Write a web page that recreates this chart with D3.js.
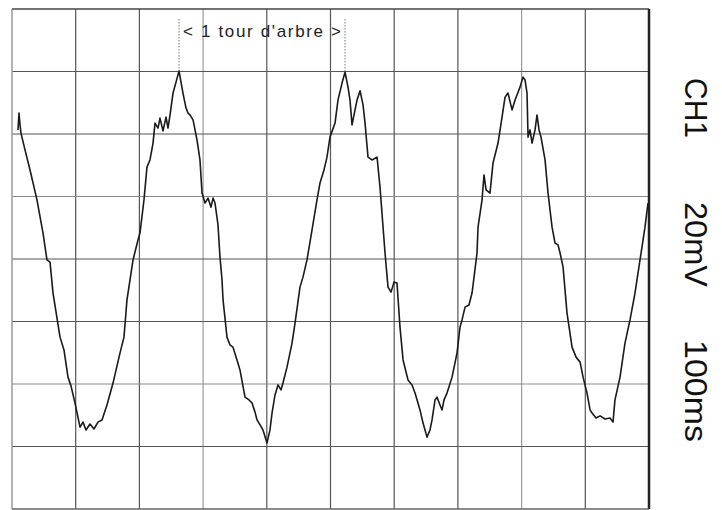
<!DOCTYPE html>
<html>
<head>
<meta charset="utf-8">
<script src="https://d3js.org/d3.v7.min.js"></script>
<style>
  body { margin: 0; background: #fff; }
  svg { display: block; }
</style>
</head>
<body>
<script>
const width = 722;
const height = 510;

// time in ms (100 ms / div), voltage in mV (20 mV / div)
const timeTicks = d3.range(0, 1001, 100);
const voltTicks = d3.range(-80, 81, 20);

const traceTime = [
  9.4, 11.0, 12.6, 14.1, 20.4, 28.3, 39.2, 48.7, 54.9, 59.7, 64.4, 75.4, 81.6, 87.9, 92.6, 98.9,
  106.8, 111.5, 116.2, 122.4, 128.7, 135.0, 141.3, 149.1, 158.6, 169.5, 175.8, 180.5, 190.0, 197.8,
  200.9, 207.2, 211.9, 216.6, 221.4, 224.5, 229.2, 232.3, 237.1, 241.8, 244.9, 248.1, 252.8, 257.5,
  262.2, 265.3, 268.4, 273.2, 276.3, 279.4, 284.2, 290.4, 295.1, 298.3, 303.0, 307.7, 312.4, 315.6,
  318.7, 323.4, 326.5, 329.7, 331.3, 337.5, 342.2, 346.9, 353.2, 357.9, 365.8, 372.1, 376.8, 381.5,
  384.7, 389.4, 394.0, 400.3, 405.0, 408.2, 412.9, 417.6, 422.3, 425.4, 431.7, 439.6, 444.3, 452.1,
  456.8, 463.1, 471.0, 478.8, 483.5, 489.8, 494.5, 499.2, 507.1, 511.8, 518.1, 522.8, 527.5, 530.6,
  533.8, 538.5, 541.7, 546.4, 551.1, 554.2, 558.9, 565.2, 573.1, 577.7, 585.6, 590.3, 595.0, 599.7,
  604.4, 609.1, 613.9, 621.7, 628.0, 632.7, 640.5, 645.3, 651.5, 656.2, 659.4, 664.1, 667.2, 671.9,
  675.1, 678.2, 682.9, 690.8, 698.6, 703.3, 706.5, 711.2, 717.4, 722.2, 730.0, 731.6, 737.9, 741.0,
  744.2, 750.4, 755.1, 763.0, 769.3, 774.0, 778.7, 785.0, 789.7, 797.5, 802.2, 805.4, 808.5, 810.1,
  813.2, 816.4, 821.1, 824.2, 827.4, 830.5, 836.8, 841.5, 847.8, 852.5, 857.2, 860.4, 865.1, 871.3,
  879.2, 885.5, 891.8, 896.5, 902.7, 907.5, 910.6, 916.9, 923.1, 931.0, 938.8, 943.5, 946.6, 954.5,
  962.3, 970.2, 978.0, 985.9, 993.7, 998.4
];

const traceVolt = [
  41.3, 46.7, 42.9, 40.3, 34.9, 28.5, 18.9, 8.3, -0.3, -1.0, -10.9, -25.0, -29.1, -37.8, -40.6, -46.1,
  -53.8, -52.2, -54.7, -52.8, -54.4, -52.2, -51.5, -46.7, -39.7, -30.1, -25.0, -13.1, -0.3, 6.1,
  8.3, 18.9, 29.4, 31.7, 37.1, 43.5, 41.9, 45.1, 41.0, 45.4, 41.9, 46.1, 53.1, 56.6,
  60.2, 56.6, 53.1, 48.3, 46.7, 46.1, 44.5, 38.1, 31.7, 21.1, 17.9, 19.5, 16.6, 19.5,
  17.9, 10.9, 0.6, -6.7, -13.1, -25.0, -27.5, -28.2, -32.3, -35.5, -44.2, -45.1, -46.1, -49.0,
  -51.5, -53.1, -54.7, -58.9, -54.7, -49.3, -43.5, -40.3, -41.9, -39.7, -34.6, -26.9, -20.5, -9.0,
  -5.8, -0.3, 9.3, 18.9, 24.3, 28.5, 32.6, 39.0, 43.5, 50.9, 56.3, 59.8, 55.0, 50.9,
  42.9, 47.7, 50.9, 53.8, 49.3, 43.5, 32.6, 31.7, 32.6, 23.0, 1.9, -9.0, -10.6, -7.4,
  -7.7, -21.8, -32.3, -38.7, -40.3, -42.9, -48.3, -52.5, -57.0, -54.7, -51.5, -45.1, -44.2, -46.7,
  -48.3, -45.1, -42.9, -37.8, -30.1, -21.8, -19.5, -15.4, -14.7, -10.9, 1.9, 10.2, 18.9, 26.9,
  22.1, 21.1, 30.7, 37.1, 45.4, 51.8, 53.1, 47.7, 50.9, 55.0, 58.2, 57.3, 53.1, 39.0,
  41.3, 37.1, 41.3, 46.1, 41.3, 39.0, 31.7, 21.1, 10.2, 5.1, 4.5, 1.9, -2.6, -17.3,
  -28.2, -31.4, -33.0, -37.8, -42.9, -48.3, -49.3, -50.9, -50.2, -51.2, -50.9, -52.2, -45.1, -37.8,
  -26.9, -19.5, -10.9, -0.3, 10.2, 17.9
];

// annotation: one shaft revolution between two peaks
const markerTimes = [262.2, 522.8];
const markerLabel = "<  1 tour d'arbre >";

const channelLabels = ['CH1', '20mV', '100ms'];

const svg = d3.select('body')
              .append('svg')
              .attr('width', width)
              .attr('height', height);

const x = d3.scaleLinear().domain([0, 1000]).range([12, 649]);
const y = d3.scaleLinear().domain([-80, 80]).range([509, 9]);

// grid
const grid = svg.append('g');

grid.selectAll('line.v')
    .data(timeTicks.slice(1, -1))
    .join('line')
        .attr('class', 'v')
        .attr('x1', d => x(d))
        .attr('x2', d => x(d))
        .attr('y1', y(80))
        .attr('y2', y(-80))
        .attr('stroke', d => (d === 300 || d === 800) ? '#9a9a9a' : '#555')
        .attr('stroke-width', 1.2)

grid.selectAll('line.h')
    .data(voltTicks.slice(1, -1))
    .join('line')
        .attr('class', 'h')
        .attr('x1', x(0))
        .attr('x2', x(1000))
        .attr('y1', d => y(d))
        .attr('y2', d => y(d))
        .attr('stroke', d => (d === 20 || d === -40) ? '#8a8a8a' : '#555')
        .attr('stroke-width', 1.2)

// frame
grid.append('line')
    .attr('x1', x(0)).attr('x2', x(1000))
    .attr('y1', y(80)).attr('y2', y(80))
    .attr('stroke', '#444').attr('stroke-width', 1.5)
grid.append('line')
    .attr('x1', x(0)).attr('x2', x(0))
    .attr('y1', y(80)).attr('y2', y(-80))
    .attr('stroke', '#999').attr('stroke-width', 1.5)
grid.append('line')
    .attr('x1', x(1000)).attr('x2', x(1000))
    .attr('y1', y(80)).attr('y2', y(-80))
    .attr('stroke', '#222').attr('stroke-width', 2.5)
grid.append('line')
    .attr('x1', x(0)).attr('x2', x(1000))
    .attr('y1', y(-80)).attr('y2', y(-80))
    .attr('stroke', '#666').attr('stroke-width', 1.5)

// trace
const trace = traceTime.map((t, i) => [t, traceVolt[i]]);

const line = d3.line()
    .x(d => x(d[0]))
    .y(d => y(d[1]));

svg.append('path')
    .datum(trace)
    .attr('d', line)
    .attr('fill', 'none')
    .attr('stroke', '#1a1a1a')
    .attr('stroke-width', 1.6)
    .attr('stroke-linejoin', 'round')

// marker lines + label
svg.selectAll('line.marker')
    .data(markerTimes)
    .join('line')
        .attr('class', 'marker')
        .attr('x1', d => x(d))
        .attr('x2', d => x(d))
        .attr('y1', 19)
        .attr('y2', y(60))
        .attr('stroke', '#777')
        .attr('stroke-width', 1)
        .attr('stroke-dasharray', '1.5,1.5')

svg.append('text')
    .attr('x', x(d3.mean(markerTimes)))
    .attr('y', 37)
    .attr('text-anchor', 'middle')
    .attr('font-family', 'Liberation Sans, Arial, sans-serif')
    .attr('font-size', 17)
    .attr('fill', '#222')
    .attr('textLength', 158)
    .attr('lengthAdjust', 'spacing')
    .text(markerLabel)

// channel settings, rotated
const labelPos = [78, 202, 340];
const labelLen = [60, 85, 102];

svg.selectAll('text.ch')
    .data(channelLabels)
    .join('text')
        .attr('class', 'ch')
        .attr('transform', (d, i) => `translate(685,${labelPos[i]}) rotate(90)`)
        .attr('font-family', 'Liberation Sans, Arial, sans-serif')
        .attr('font-size', 32)
        .attr('fill', '#111')
        .attr('textLength', (d, i) => labelLen[i])
        .attr('lengthAdjust', 'spacingAndGlyphs')
        .text(d => d)
</script>
</body>
</html>
